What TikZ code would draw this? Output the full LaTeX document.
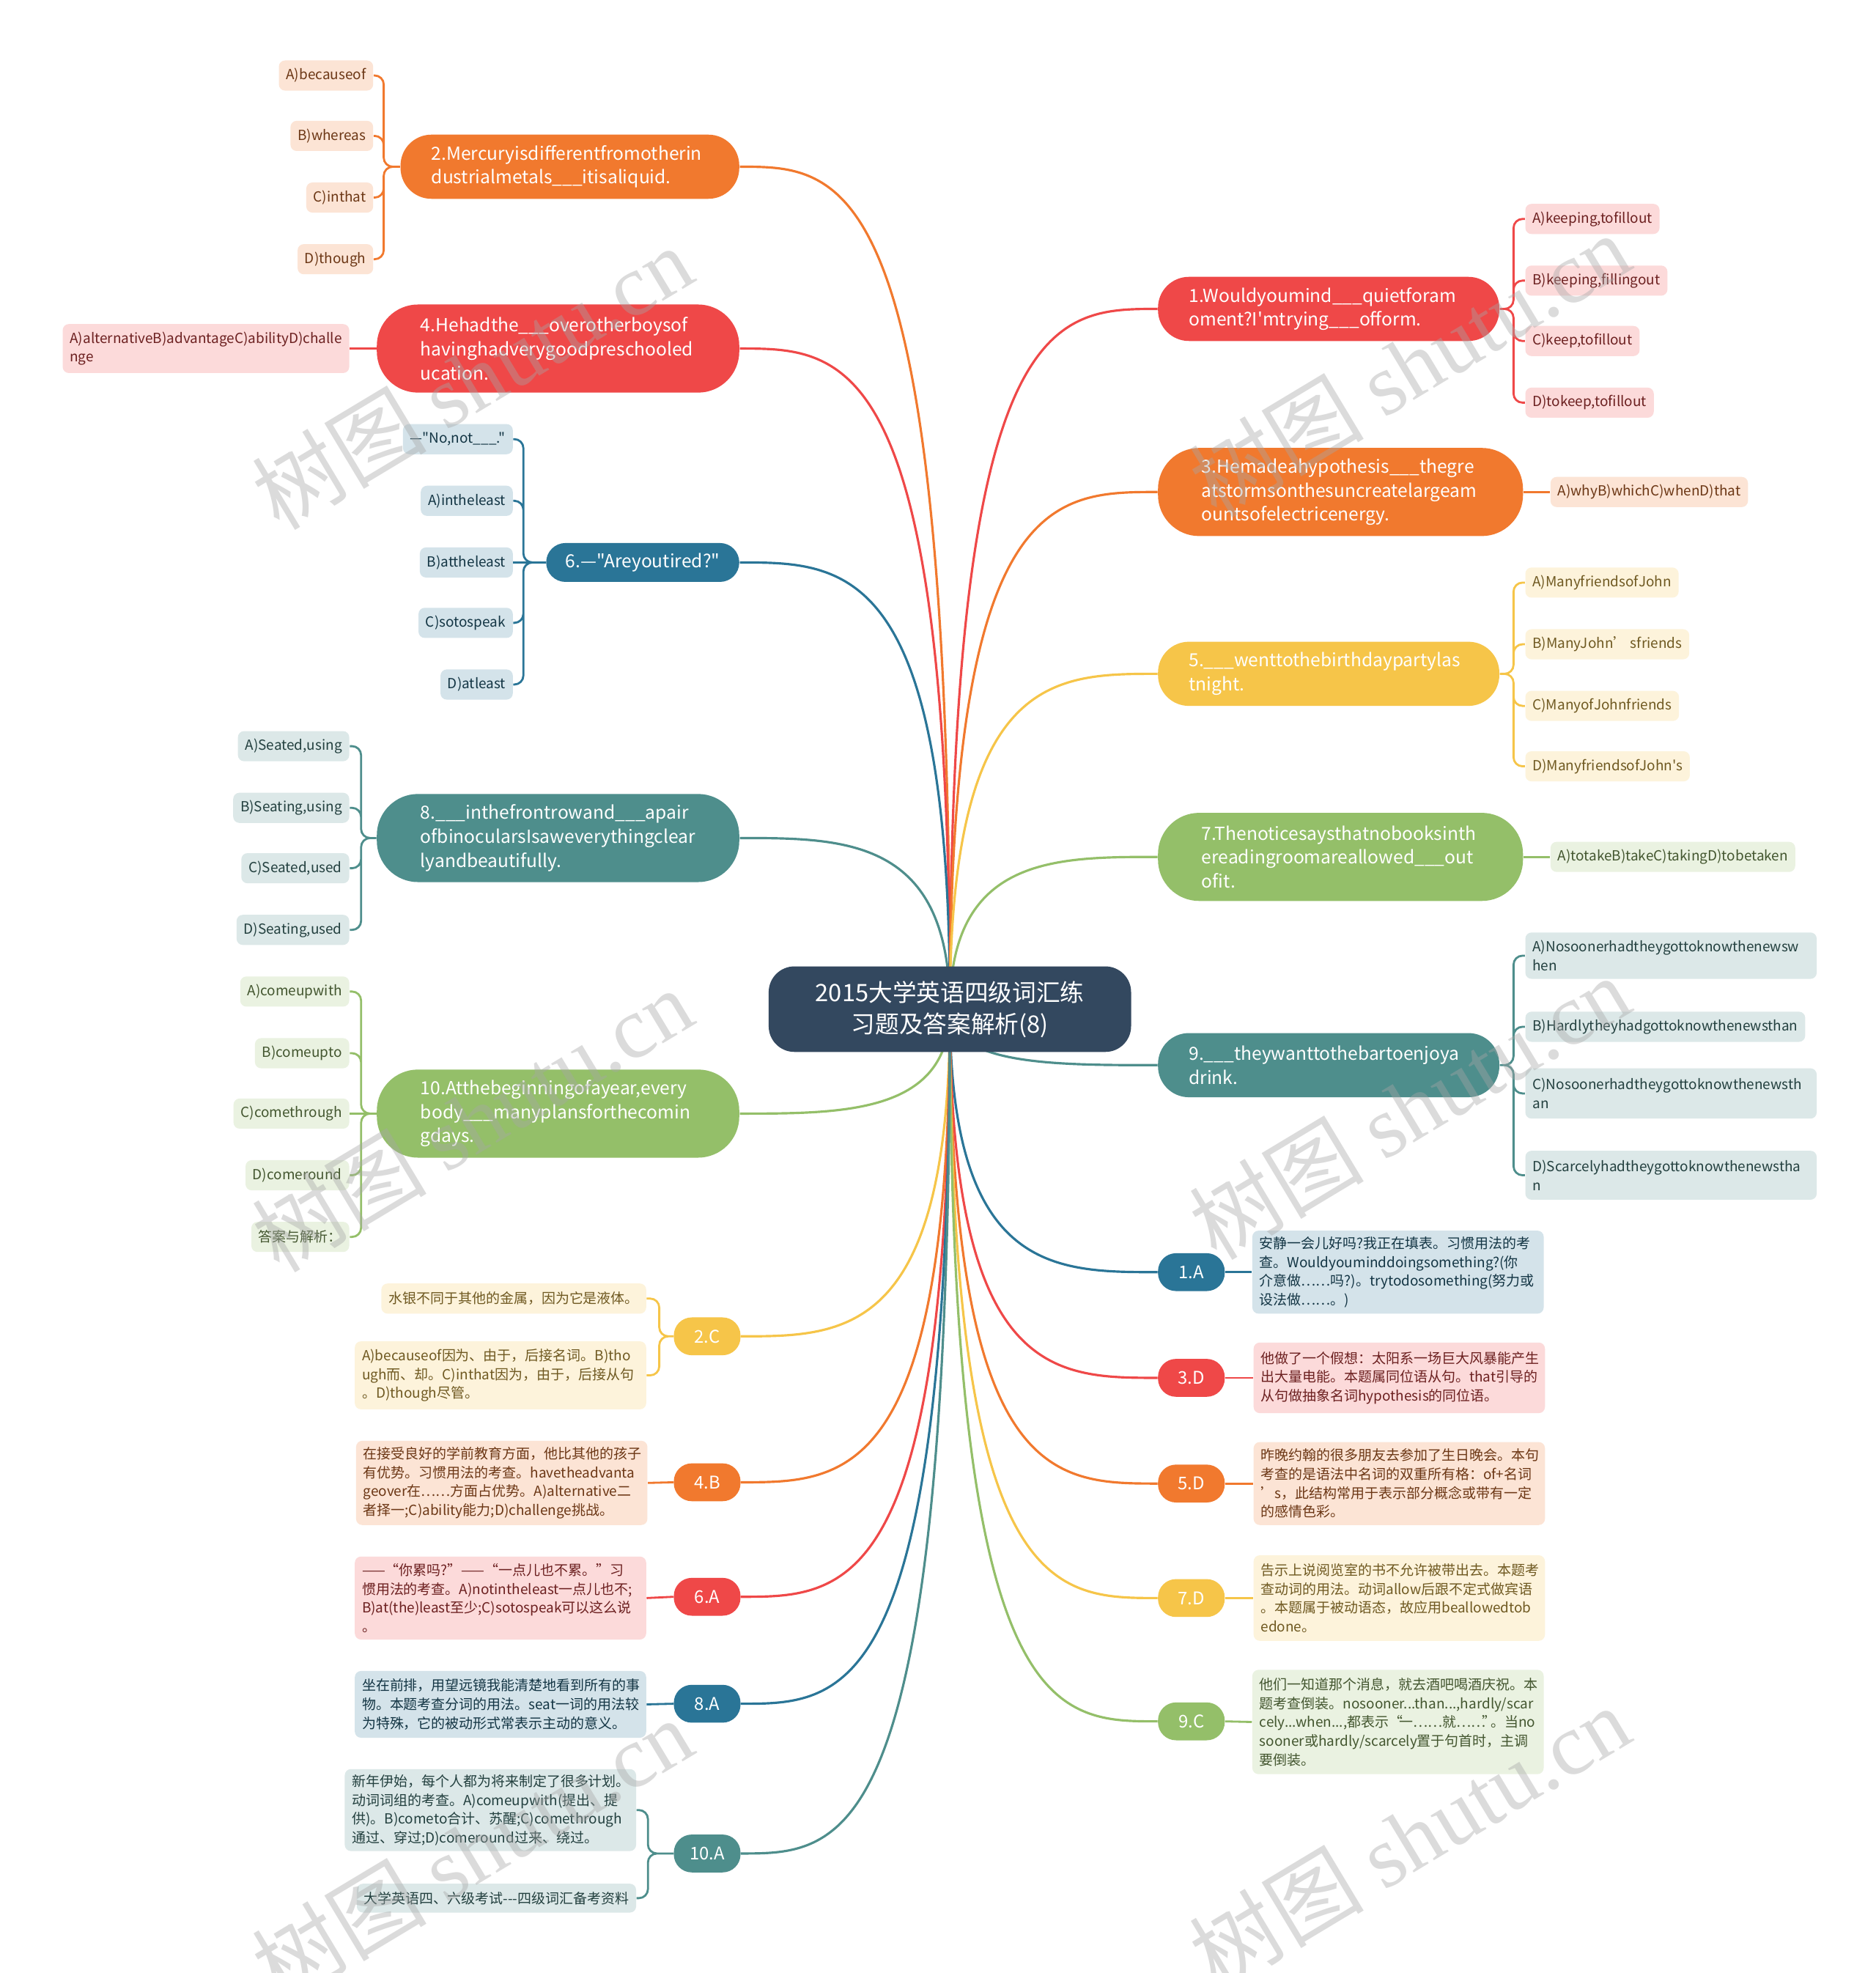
\documentclass[tikz,border=0pt]{standalone}
\usepackage{fontspec}
\setmainfont{Noto Sans CJK SC}[Ligatures=TeXOff]
\newfontfamily\wmlatin{Liberation Serif}
\usetikzlibrary{calc,backgrounds}

\definecolor{mmnavy}{HTML}{33485F}
\definecolor{mmorange}{HTML}{F1792E}
\definecolor{mmred}{HTML}{EF4848}
\definecolor{mmblue}{HTML}{2A7597}
\definecolor{mmteal}{HTML}{4E8E8C}
\definecolor{mmgreen}{HTML}{94BF69}
\definecolor{mmyellow}{HTML}{F6C549}

\hyphenpenalty=10000
\exhyphenpenalty=10000

\begin{document}
\begin{tikzpicture}[x=0.01717cm, y=-0.01717cm,
    hubnode/.style={rectangle, rounded corners=10pt, fill=mmnavy, text=white, font=\fontsize{9.3}{12.2}\selectfont, align=center, minimum width=140.7pt, minimum height=33.2pt},
    topic/.style={rectangle, rounded corners=12pt, fill=#1, text=white, font=\fontsize{7}{9.3}\selectfont, align=left, inner xsep=12pt, inner ysep=0pt, minimum height=24.9pt},
    bigtopic/.style={topic=#1, rounded corners=16pt, inner xsep=17pt, minimum height=34.2pt},
    answer/.style={rectangle, rounded corners=7pt, fill=#1, text=white, font=\fontsize{6.8}{8}\selectfont, minimum width=25.9pt, minimum height=14.7pt, inner sep=0pt},
    leaf/.style={rectangle, rounded corners=2.4pt, fill=#1!20, text=#1!45!black, font=\fontsize{5.4}{7.3}\selectfont, align=left, inner xsep=2.8pt, inner ysep=0pt, minimum height=11.7pt},
    note/.style={leaf=#1, text width=107.5pt},
    hub/.style={draw=#1, line width=0.9pt, to path={.. controls (\tikztostart |- \tikztotarget) and ($(\tikztostart |- \tikztotarget)!0.5!(\tikztotarget)$) .. (\tikztotarget)}},
    brace/.style={line width=0.8pt, rounded corners=3.5pt, to path={-| ($(\tikztotarget)+(#1,0)$) -- (\tikztotarget)}},
    twig/.style={line width=0.8pt},
    wmark/.style={rotate=31, text=gray!70, opacity=0.4, font=\fontsize{34}{34}\selectfont}
]

\useasboundingbox (0,0) rectangle (1491,1568);

% Centre
\node[hubnode] (ctr) at (755,802) {2015大学英语四级词汇练\\习题及答案解析(8)};

% Questions - left side
\node[topic=mmorange, anchor=east, text width=107.5pt] (t2) at (588,132.5) {2.Mercuryisdifferentfromotherin\\dustrialmetals\_\_\_itisaliquid.};
\node[bigtopic=mmred, anchor=east, text width=106.7pt] (t4) at (588,277) {4.Hehadthe\_\_\_overotherboysof\\havinghadverygoodpreschooled\\ucation.};
\node[topic=mmblue, anchor=east, inner xsep=7.5pt, rounded corners=7.5pt, minimum height=15.1pt] (t6) at (588,447) {6.—"Areyoutired?"};
\node[bigtopic=mmteal, anchor=east, text width=106.7pt] (t8) at (588,666) {8.\_\_\_inthefrontrowand\_\_\_apair\\ofbinocularsIsaweverythingclear\\lyandbeautifully.};
\node[bigtopic=mmgreen, anchor=east, text width=106.7pt] (t10) at (588,885) {10.Atthebeginningofayear,every\\body\_\_\_manyplansforthecomin\\gdays.};

% Questions - right side
\node[topic=mmred, anchor=west, text width=108.5pt] (t1) at (920,245.5) {1.Wouldyoumind\_\_\_quietforam\\oment?I'mtrying\_\_\_ofform.};
\node[bigtopic=mmorange, anchor=west, text width=107.7pt] (t3) at (920,391) {3.Hemadeahypothesis\_\_\_thegre\\atstormsonthesuncreatelargeam\\ountsofelectricenergy.};
\node[topic=mmyellow, anchor=west, text width=108.5pt] (t5) at (920,535.5) {5.\_\_\_wenttothebirthdaypartylas\\tnight.};
\node[bigtopic=mmgreen, anchor=west, text width=107.7pt] (t7) at (920,681) {7.Thenoticesaysthatnobooksinth\\ereadingroomareallowed\_\_\_out\\ofit.};
\node[topic=mmteal, anchor=west, text width=108.5pt] (t9) at (920,846.5) {9.\_\_\_theywanttothebartoenjoya\\drink.};

% Answers
\node[answer=mmblue, anchor=west] (a1) at (920,1011) {1.A};
\node[answer=mmred, anchor=west] (a3) at (920,1095) {3.D};
\node[answer=mmorange, anchor=west] (a5) at (920,1179) {5.D};
\node[answer=mmyellow, anchor=west] (a7) at (920,1270) {7.D};
\node[answer=mmgreen, anchor=west] (a9) at (920,1368) {9.C};
\node[answer=mmyellow, anchor=east] (a2) at (589,1062) {2.C};
\node[answer=mmorange, anchor=east] (a4) at (589,1178) {4.B};
\node[answer=mmred, anchor=east] (a6) at (589,1269) {6.A};
\node[answer=mmblue, anchor=east] (a8) at (589,1354) {8.A};
\node[answer=mmteal, anchor=east] (a10) at (589,1473) {10.A};

% Options - left
\node[leaf=mmorange, anchor=east] (l2a) at (297,60) {A)becauseof};
\node[leaf=mmorange, anchor=east] (l2b) at (297,108) {B)whereas};
\node[leaf=mmorange, anchor=east] (l2c) at (297,157) {C)inthat};
\node[leaf=mmorange, anchor=east] (l2d) at (297,206) {D)though};
\node[leaf=mmred, anchor=east, minimum height=19pt] (l4) at (278,277) {A)alternativeB)advantageC)abilityD)challe\\nge};
\node[leaf=mmblue, anchor=east] (l6a) at (408,349) {—"No,not\_\_\_."};
\node[leaf=mmblue, anchor=east] (l6b) at (408,398) {A)intheleast};
\node[leaf=mmblue, anchor=east] (l6c) at (408,447) {B)attheleast};
\node[leaf=mmblue, anchor=east] (l6d) at (408,495) {C)sotospeak};
\node[leaf=mmblue, anchor=east] (l6e) at (408,544) {D)atleast};
\node[leaf=mmteal, anchor=east] (l8a) at (278,593) {A)Seated,using};
\node[leaf=mmteal, anchor=east] (l8b) at (278,642) {B)Seating,using};
\node[leaf=mmteal, anchor=east] (l8c) at (278,690) {C)Seated,used};
\node[leaf=mmteal, anchor=east] (l8d) at (278,739) {D)Seating,used};
\node[leaf=mmgreen, anchor=east] (l10a) at (278,788) {A)comeupwith};
\node[leaf=mmgreen, anchor=east] (l10b) at (278,837) {B)comeupto};
\node[leaf=mmgreen, anchor=east] (l10c) at (278,885) {C)comethrough};
\node[leaf=mmgreen, anchor=east] (l10d) at (278,934) {D)comeround};
\node[leaf=mmgreen, anchor=east] (l10e) at (278,983) {答案与解析：};

% Options - right
\node[leaf=mmred, anchor=west] (l1a) at (1212,174) {A)keeping,tofillout};
\node[leaf=mmred, anchor=west] (l1b) at (1212,223) {B)keeping,fillingout};
\node[leaf=mmred, anchor=west] (l1c) at (1212,271) {C)keep,tofillout};
\node[leaf=mmred, anchor=west] (l1d) at (1212,320) {D)tokeep,tofillout};
\node[leaf=mmorange, anchor=west] (l3) at (1232,391) {A)whyB)whichC)whenD)that};
\node[leaf=mmyellow, anchor=west] (l5a) at (1212,463) {A)ManyfriendsofJohn};
\node[leaf=mmyellow, anchor=west] (l5b) at (1212,512) {B)ManyJohn’\ sfriends};
\node[leaf=mmyellow, anchor=west] (l5c) at (1212,561) {C)ManyofJohnfriends};
\node[leaf=mmyellow, anchor=west] (l5d) at (1212,609) {D)ManyfriendsofJohn's};
\node[leaf=mmgreen, anchor=west] (l7) at (1232,681) {A)totakeB)takeC)takingD)tobetaken};
\node[note=mmteal, anchor=west, minimum height=18pt] (l9a) at (1212,759.5) {A)Nosoonerhadtheygottoknowthenewsw\\hen};
\node[leaf=mmteal, anchor=west] (l9b) at (1212,816) {B)Hardlytheyhadgottoknowthenewsthan};
\node[note=mmteal, anchor=west, minimum height=19.5pt] (l9c) at (1212,869) {C)Nosoonerhadtheygottoknowthenewsth\\an};
\node[note=mmteal, anchor=west, minimum height=19pt] (l9d) at (1212,934) {D)Scarcelyhadtheygottoknowthenewstha\\n};

% Explanations - right
\node[note=mmblue, anchor=west, minimum height=32.2pt] (n1) at (995,1011) {安静一会儿好吗?我正在填表。习惯用法的考\\查。Wouldyouminddoingsomething?(你\\介意做……吗?)。trytodosomething(努力或\\设法做……。)};
\node[note=mmred, anchor=west, minimum height=27.4pt] (n3) at (996,1095) {他做了一个假想：太阳系一场巨大风暴能产生\\出大量电能。本题属同位语从句。that引导的\\从句做抽象名词hypothesis的同位语。};
\node[note=mmorange, anchor=west, minimum height=32.2pt] (n5) at (996,1179) {昨晚约翰的很多朋友去参加了生日晚会。本句\\考查的是语法中名词的双重所有格：of+名词\\’s，此结构常用于表示部分概念或带有一定\\的感情色彩。};
\node[note=mmyellow, anchor=west, minimum height=33.2pt] (n7) at (996,1270) {告示上说阅览室的书不允许被带出去。本题考\\查动词的用法。动词allow后跟不定式做宾语\\。本题属于被动语态，故应用beallowedtob\\edone。};
\node[note=mmgreen, anchor=west, minimum height=40.5pt] (n9) at (995,1368.5) {他们一知道那个消息，就去酒吧喝酒庆祝。本\\题考查倒装。nosooner...than...,hardly/scar\\cely...when...,都表示“\kern-1.5pt 一……就……\kern-1.5pt”\kern-2pt 。当no\\sooner或hardly/scarcely置于句首时，主调\\要倒装。};

% Explanations - left
\node[leaf=mmyellow, anchor=east] (n2a) at (514,1032) {水银不同于其他的金属，因为它是液体。};
\node[note=mmyellow, anchor=east, minimum height=26.4pt] (n2b) at (514,1093) {A)becauseof因为、由于，后接名词。B)tho\\ugh而、却。C)inthat因为，由于，后接从句\\。D)though尽管。};
\node[note=mmorange, anchor=east, minimum height=32.7pt] (n4) at (515,1178.5) {在接受良好的学前教育方面，他比其他的孩子\\有优势。习惯用法的考查。havetheadvanta\\geover在……方面占优势。A)alternative二\\者择一;C)ability能力;D)challenge挑战。};
\node[note=mmred, anchor=east, minimum height=32.2pt] (n6) at (514,1270) {——“你累吗?”——“一点儿也不累。”习\\惯用法的考查。A)notintheleast一点儿也不;\\B)at(the)least至少;C)sotospeak可以这么说\\。};
\node[note=mmblue, anchor=east, minimum height=25.9pt] (n8) at (514,1354.5) {坐在前排，用望远镜我能清楚地看到所有的事\\物。本题考查分词的用法。seat一词的用法较\\为特殊，它的被动形式常表示主动的意义。};
\node[note=mmteal, anchor=east, minimum height=31.8pt] (n10a) at (506,1438.5) {新年伊始，每个人都为将来制定了很多计划。\\动词词组的考查。A)comeupwith(提出、提\\供)。B)cometo合计、苏醒;C)comethrough\\通过、穿过;D)comeround过来、绕过。};
\node[leaf=mmteal, anchor=east, minimum height=11.2pt] (n10b) at (506,1508.5) {大学英语四、六级考试-\kern0pt-\kern0pt-四级词汇备考资料};

% Connections behind the boxes
\begin{scope}[on background layer]
\fill[white] (0,0) rectangle (1491,1568);
% from the centre
\draw[hub=mmorange] (ctr.center) to (t2.east);
\draw[hub=mmred] (ctr.center) to (t4.east);
\draw[hub=mmblue] (ctr.center) to (t6.east);
\draw[hub=mmteal] (ctr.center) to (t8.east);
\draw[hub=mmgreen] (ctr.center) to (t10.east);
\draw[hub=mmred] (ctr.center) to (t1.west);
\draw[hub=mmorange] (ctr.center) to (t3.west);
\draw[hub=mmyellow] (ctr.center) to (t5.west);
\draw[hub=mmgreen] (ctr.center) to (t7.west);
\draw[hub=mmteal] (ctr.center) to (t9.west);
\draw[hub=mmblue] (ctr.center) to (a1.west);
\draw[hub=mmred] (ctr.center) to (a3.west);
\draw[hub=mmorange] (ctr.center) to (a5.west);
\draw[hub=mmyellow] (ctr.center) to (a7.west);
\draw[hub=mmgreen] (ctr.center) to (a9.west);
\draw[hub=mmyellow] (ctr.center) to (a2.east);
\draw[hub=mmorange] (ctr.center) to (a4.east);
\draw[hub=mmred] (ctr.center) to (a6.east);
\draw[hub=mmblue] (ctr.center) to (a8.east);
\draw[hub=mmteal] (ctr.center) to (a10.east);
% options
\draw[brace=8, mmorange] (t2.west) to (l2a.east) (t2.west) to (l2b.east) (t2.west) to (l2c.east) (t2.west) to (l2d.east);
\draw[twig, mmred] (t4.west) -- (l4.east);
\draw[brace=8, mmblue] (t6.west) to (l6a.east) (t6.west) to (l6b.east) (t6.west) to (l6d.east) (t6.west) to (l6e.east);
\draw[twig, mmblue] (t6.west) -- (l6c.east);
\draw[brace=9, mmteal] (t8.west) to (l8a.east) (t8.west) to (l8b.east) (t8.west) to (l8c.east) (t8.west) to (l8d.east);
\draw[brace=9, mmgreen] (t10.west) to (l10a.east) (t10.west) to (l10b.east) (t10.west) to (l10d.east) (t10.west) to (l10e.east);
\draw[twig, mmgreen] (t10.west) -- (l10c.east);
\draw[brace=-9, mmred] (t1.east) to (l1a.west) (t1.east) to (l1b.west) (t1.east) to (l1c.west) (t1.east) to (l1d.west);
\draw[twig, mmorange] (t3.east) -- (l3.west);
\draw[brace=-9, mmyellow] (t5.east) to (l5a.west) (t5.east) to (l5b.west) (t5.east) to (l5c.west) (t5.east) to (l5d.west);
\draw[twig, mmgreen] (t7.east) -- (l7.west);
\draw[brace=-9, mmteal] (t9.east) to (l9a.west) (t9.east) to (l9b.west) (t9.east) to (l9c.west) (t9.east) to (l9d.west);
% explanations
\draw[twig, mmblue] (a1.east) -- (n1.west);
\draw[twig, mmred] (a3.east) -- (n3.west);
\draw[twig, mmorange] (a5.east) -- (n5.west);
\draw[twig, mmyellow] (a7.east) -- (n7.west);
\draw[twig, mmgreen] (a9.east) -- (n9.west);
\draw[brace=10, mmyellow] (a2.west) to (n2a.east) (a2.west) to (n2b.east);
\draw[twig, mmorange] (a4.west) -- (n4.east);
\draw[twig, mmred] (a6.west) -- (n6.east);
\draw[twig, mmblue] (a8.west) -- (n8.east);
\draw[brace=9, mmteal] (a10.west) to (n10a.east) (a10.west) to (n10b.east);
\end{scope}

% Watermarks
\node[wmark] (wm1) at (375,300) {树图 {\wmlatin shutu.cn}};
\node[wmark] (wm2) at (1120,290) {树图 {\wmlatin shutu.cn}};
\node[wmark] (wm3) at (375,890) {树图 {\wmlatin shutu.cn}};
\node[wmark] (wm4) at (1120,880) {树图 {\wmlatin shutu.cn}};
\node[wmark] (wm5) at (375,1470) {树图 {\wmlatin shutu.cn}};
\node[wmark] (wm6) at (1120,1460) {树图 {\wmlatin shutu.cn}};

\end{tikzpicture}
\end{document}
